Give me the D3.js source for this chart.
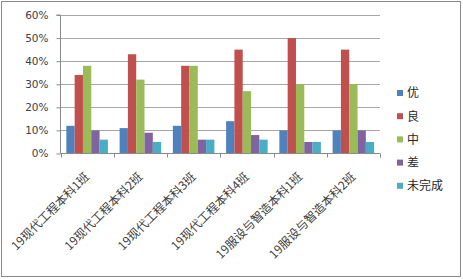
<!DOCTYPE html>
<html><head><meta charset="utf-8">
<script src="https://cdn.jsdelivr.net/npm/d3@7/dist/d3.min.js"></script>
<style>body{margin:0;background:#fff}svg{display:block}</style>
</head><body>
<script>
const categories = ["19现代工程本科1班","19现代工程本科2班","19现代工程本科3班","19现代工程本科4班","19服设与智造本科1班","19服设与智造本科2班"];
const seriesNames = ["优","良","中","差","未完成"];
const you = [12,11,12,14,10,10];
const liang = [34,43,38,45,50,45];
const zhong = [38,32,38,27,30,30];
const cha = [10,9,6,8,5,10];
const weiwancheng = [6,5,6,6,5,5];
const yTicks = [0,10,20,30,40,50,60];
const colors = ["#4F81BD","#C0504D","#9BBB59","#8064A2","#4BACC6"];
const seriesValues = [you, liang, zhong, cha, weiwancheng];

const W=463,H=279;
const svg=d3.select("body").append("svg").attr("width",W).attr("height",H);
svg.append("rect").attr("x",1.5).attr("y",1.5).attr("width",459).attr("height",275)
  .attr("fill","#fff").attr("stroke","#8a8a8a").attr("stroke-width",1);

const x0=60.5,x1=380,yTop=15,yBot=153.5;
const x=d3.scaleBand().domain(categories).range([x0,x1]).paddingInner(0.22).paddingOuter(0.11);
const xs=d3.scaleBand().domain(seriesNames).range([0,x.bandwidth()]);
const y=d3.scaleLinear().domain([0,60]).range([yBot,yTop]);

// gridlines
svg.append("g").selectAll("line").data(yTicks.filter(d=>d>0)).join("line")
  .attr("x1",x0).attr("x2",x1).attr("y1",d=>Math.round(y(d))+0.5).attr("y2",d=>Math.round(y(d))+0.5)
  .attr("stroke","#a6a6a6");

// bars
const data=[];
categories.forEach((c,i)=>seriesNames.forEach((s,j)=>data.push({c,s,v:seriesValues[j][i],col:colors[j]})));
svg.append("g").selectAll("rect").data(data).join("rect")
  .attr("x",d=>x(d.c)+xs(d.s)).attr("width",xs.bandwidth())
  .attr("y",d=>y(d.v)).attr("height",d=>y(0)-y(d.v)).attr("fill",d=>d.col);

// y axis
const ya=d3.axisLeft(y).tickValues(yTicks).tickFormat(d=>d+"%").tickSize(4).tickPadding(8);
const gy=svg.append("g").attr("transform",`translate(${x0},0)`).call(ya);
gy.select(".domain").attr("stroke","#8a8a8a").attr("d",`M-4,${yTop}H0V${yBot}`);
gy.selectAll(".tick line").attr("stroke","#8a8a8a");
gy.selectAll("text").attr("font-family","DejaVu Sans, Verdana, sans-serif").attr("font-size","10.5px").attr("fill","#404040");

// x axis
const xTickPos=[x0].concat(categories.map((c,i)=>x0+(x1-x0)/categories.length*(i+1)));
const gx=svg.append("g");
gx.append("line").attr("x1",x0).attr("x2",x1).attr("y1",yBot).attr("y2",yBot).attr("stroke","#8a8a8a");
gx.selectAll("line.t").data(xTickPos).join("line").attr("class","t")
  .attr("x1",d=>Math.round(d)+0.5).attr("x2",d=>Math.round(d)+0.5).attr("y1",yBot).attr("y2",yBot+4).attr("stroke","#8a8a8a");
gx.selectAll("text").data(categories).join("text")
  .attr("transform",d=>`translate(${x(d)+x.bandwidth()/2},${yBot+21}) rotate(-45)`)
  .attr("text-anchor","end").attr("dy","0.35em")
  .attr("font-family","Noto Sans CJK SC, sans-serif").attr("font-size","12px").attr("fill","#404040")
  .text(d=>d);

// legend
const lg=svg.append("g").attr("transform","translate(397,0)");
const li=lg.selectAll("g").data(seriesNames).join("g").attr("transform",(d,i)=>`translate(0,${93+i*23.2})`);
li.append("rect").attr("x",0).attr("y",-3).attr("width",6).attr("height",6).attr("fill",(d,i)=>colors[i]);
li.append("text").attr("x",10).attr("y",0).attr("dy","0.36em")
  .attr("font-family","Noto Sans CJK SC, sans-serif").attr("font-size","12px").attr("fill","#262626").text(d=>d);
</script>
</body></html>
